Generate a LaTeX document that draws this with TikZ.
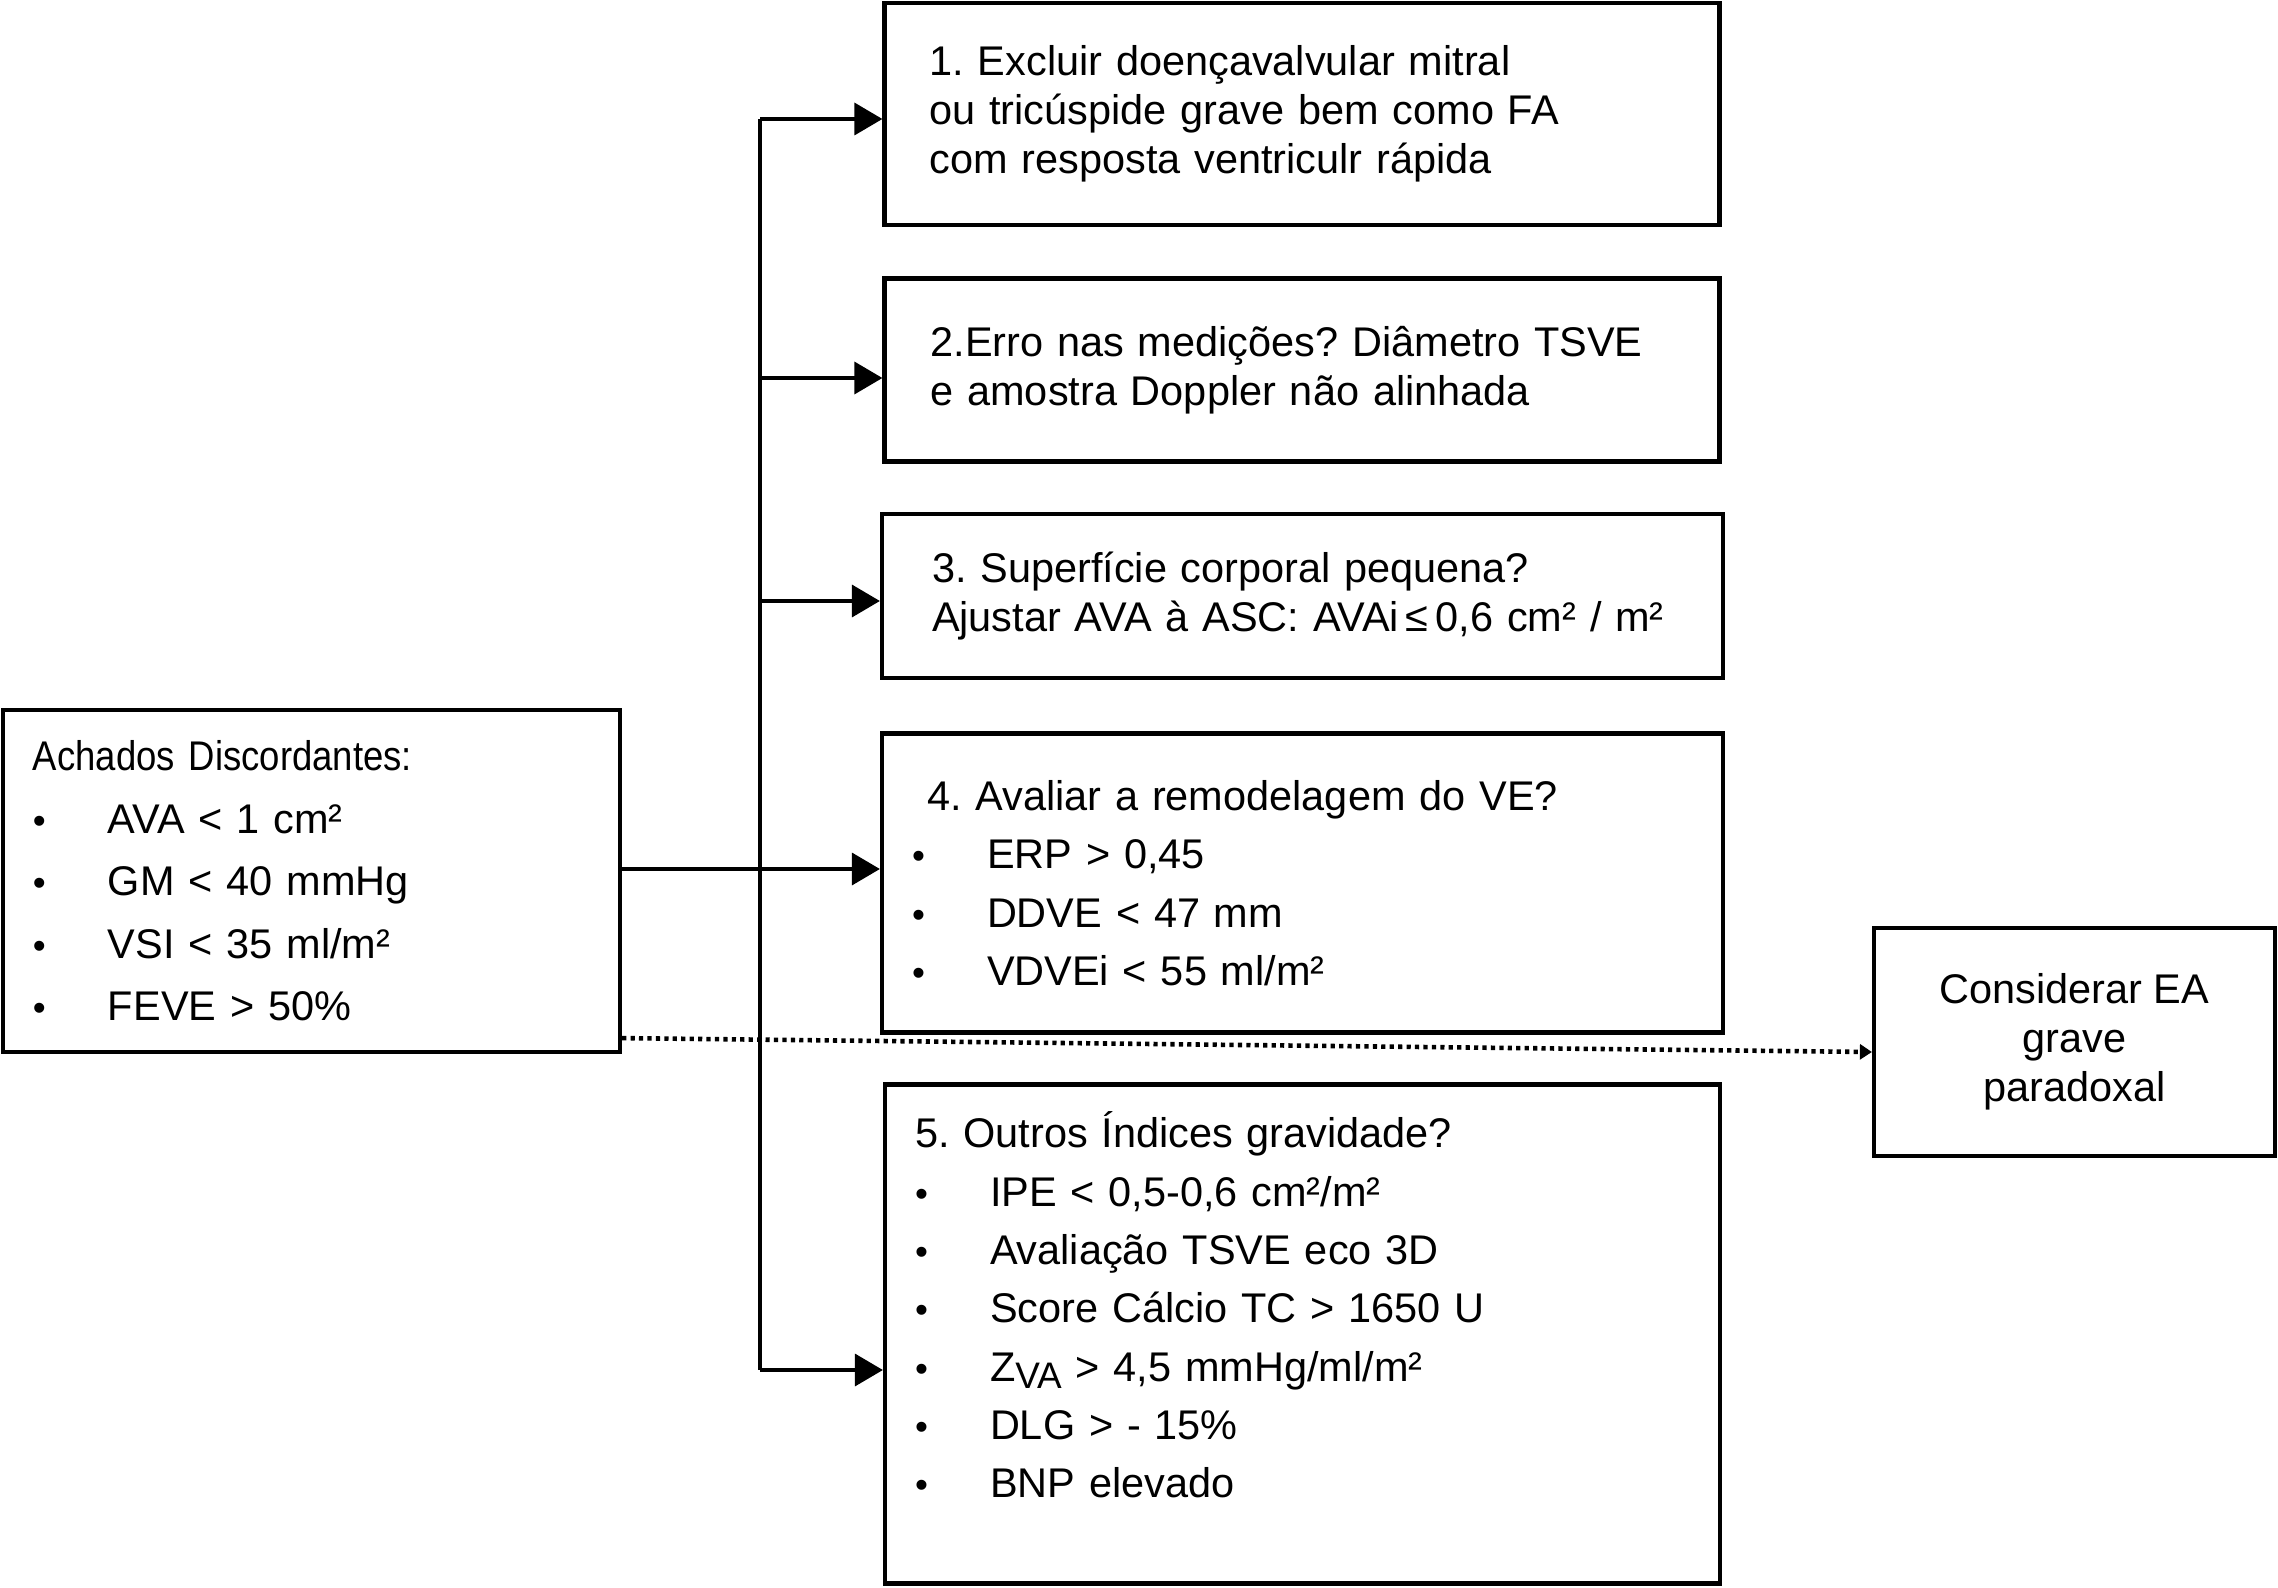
\documentclass[tikz,border=0pt]{standalone}
\usepackage{fontspec}
\setmainfont{Liberation Sans}
\newfontfamily\narrowfont{Liberation Sans}[FakeStretch=0.88]
\usepackage{tikz}
\usetikzlibrary{positioning}
\usetikzlibrary{arrows.meta}
\frenchspacing
\newcommand{\flowfont}{\fontsize{11.8}{14}\selectfont}
\newcommand{\listfont}{\fontsize{11.8}{16.6}\selectfont}
\newcommand{\widelistfont}{\fontsize{11.8}{17.8}\selectfont}
\newcommand{\itm}{\makebox[0.75cm][l]{\fontsize{10.5}{10}\selectfont\textbullet}}
\tikzstyle{flowbox}=[
    draw,
    rectangle,
    line width=1.2pt,
    inner ysep=0pt,
    align=left,
    font=\flowfont
]
\tikzstyle{flowarrow}=[
    line width=1pt,
    -{Triangle[length=0.28cm,width=0.32cm]}
]
\tikzstyle{flowdotted}=[
    line width=1.3pt,
    dash pattern=on 1.2pt off 1.2pt,
    -{Triangle[length=0.12cm,width=0.15cm]}
]

\begin{document}
\begin{tikzpicture}
    \useasboundingbox (0,0) rectangle (22.78,-15.88);

    % nodes
    \node[flowbox,font=\widelistfont,inner xsep=0.3cm,text width=5.57cm,minimum height=3.42cm] (achados) at (3.115,-8.81)
        {{\narrowfont Achados Discordantes:}\\
         \itm AVA < 1 cm²\\
         \itm GM < 40 mmHg\\
         \itm VSI < 35 ml/m²\\
         \itm FEVE > 50\%};

    \node[flowbox,inner xsep=0.45cm,text width=7.45cm,minimum height=2.22cm] (excluir) at (13.02,-1.14)
        {1. Excluir doençavalvular mitral\\
         ou tricúspide grave bem como FA\\
         com resposta ventriculr rápida};
    \node[flowbox,inner xsep=0.46cm,text width=7.43cm,minimum height=1.83cm] (erro) at (13.02,-3.70)
        {2.Erro nas medições? Diâmetro TSVE\\
         e amostra Doppler não alinhada};
    \node[flowbox,inner xsep=0.5cm,text width=7.41cm,minimum height=1.64cm] (superficie) at (13.025,-5.96)
        {3. Superfície corporal pequena?\\
         Ajustar AVA à ASC: AVAi\,≤\,0,6 cm² / m²};
    \node[flowbox,font=\listfont,inner xsep=0.3cm,text width=7.81cm,minimum height=2.99cm] (remodel) at (13.025,-8.83)
        {\hspace*{0.15cm}4. Avaliar a remodelagem do VE?\\
         \itm ERP > 0,45\\
         \itm DDVE < 47 mm\\
         \itm VDVEi < 55 ml/m²};
    \node[flowbox,font=\listfont,inner xsep=0.3cm,text width=7.75cm,minimum height=4.99cm] (outros) at (13.025,-13.34)
        {5. Outros Índices gravidade?\\
         \itm IPE < 0,5-0,6 cm²/m²\\
         \itm Avaliação TSVE eco 3D\\
         \itm Score Cálcio TC > 1650 U\\
         \itm Z\raisebox{-0.35ex}{\fontsize{10.5}{10}\selectfont VA} > 4,5 mmHg/ml/m²\\
         \itm DLG > - 15\%\\
         \itm BNP elevado\\
         \mbox{}};

    \node[flowbox,align=center,minimum width=4.01cm,minimum height=2.28cm] (paradoxal) at (20.745,-10.42)
        {Considerar EA\\grave\\paradoxal};

    % trunk
    \coordinate (j1) at (7.60,-1.19);
    \coordinate (j2) at (7.60,-3.78);
    \coordinate (j3) at (7.60,-6.01);
    \coordinate (j4) at (7.60,-8.69);
    \coordinate (j5) at (7.60,-13.70);

    % edges
    \draw[line width=1pt] (j1) -- (j5);
    \draw[flowarrow] (j1) -- (j1 -| excluir.west);
    \draw[flowarrow] (j2) -- (j2 -| erro.west);
    \draw[flowarrow] (j3) -- (j3 -| superficie.west);
    \draw[flowarrow] (achados.east |- j4) -- (j4 -| remodel.west);
    \draw[flowarrow] (j5) -- (j5 -| outros.west);

    \draw[flowdotted] ([yshift=0.16cm]achados.south east) -- ([yshift=-0.10cm]paradoxal.west);
\end{tikzpicture}
\end{document}
